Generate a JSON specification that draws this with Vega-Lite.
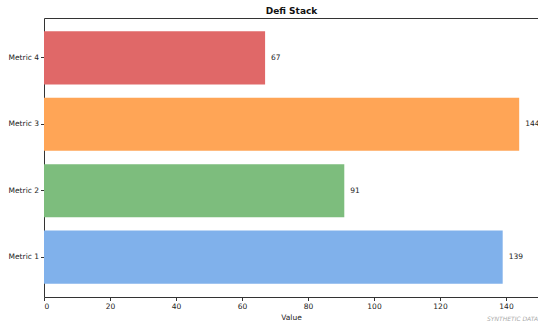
{
  "$schema": "https://vega.github.io/schema/vega-lite/v6.json",
  "width": 494,
  "height": 279,
  "autosize": {"type": "none"},
  "padding": {"left": 44, "top": 18, "right": 0, "bottom": 26},
  "background": "white",
  "config": {
    "view": {"stroke": null},
    "font": "DejaVu Sans"
  },
  "title": {
    "text": "SYNTHETIC DATA",
    "orient": "bottom",
    "anchor": "end",
    "frame": "group",
    "fontSize": 6,
    "fontStyle": "italic",
    "fontWeight": "normal",
    "color": "#aaaaaa",
    "offset": -5
  },
  "data": {
    "values": [
      {"metric": "Metric 1", "value": 139},
      {"metric": "Metric 2", "value": 91},
      {"metric": "Metric 3", "value": 144},
      {"metric": "Metric 4", "value": 67}
    ]
  },
  "encoding": {
    "y": {
      "field": "metric",
      "type": "nominal",
      "sort": "descending",
      "scale": {"paddingInner": 0.2, "paddingOuter": 0.2},
      "axis": {
        "title": null,
        "tickSize": 3.5,
        "tickColor": "#333333",
        "domainColor": "#333333",
        "labelFontSize": 7.5,
        "labelColor": "#222222",
        "labelPadding": 2
      }
    }
  },
  "layer": [
    {
      "mark": {"type": "bar"},
      "encoding": {
        "x": {
          "field": "value",
          "type": "quantitative",
          "scale": {"domain": [0, 149.7], "nice": false, "zero": true},
          "axis": {
            "orient": "bottom",
            "title": "Value",
            "values": [0, 20, 40, 60, 80, 100, 120, 140],
            "grid": false,
            "tickSize": 3.5,
            "tickColor": "#333333",
            "domainColor": "#333333",
            "labelFontSize": 7.5,
            "labelColor": "#222222",
            "labelPadding": 2,
            "titleFontSize": 7.5,
            "titleFontWeight": "normal",
            "titleColor": "#222222",
            "titlePadding": 3
          }
        },
        "color": {
          "field": "metric",
          "type": "nominal",
          "scale": {
            "domain": ["Metric 1", "Metric 2", "Metric 3", "Metric 4"],
            "range": ["#80b1eb", "#7dbd7d", "#ffa556", "#e06868"]
          },
          "legend": null
        }
      }
    },
    {
      "mark": {"type": "text", "align": "left", "baseline": "middle", "dx": 6, "fontSize": 7.5, "color": "#222222"},
      "encoding": {
        "x": {
          "field": "value",
          "type": "quantitative",
          "axis": {
            "orient": "top",
            "labels": false,
            "ticks": false,
            "grid": false,
            "domainColor": "#333333",
            "title": "Defi Stack",
            "titleFontSize": 9,
            "titleFontWeight": "bold",
            "titleColor": "#111111",
            "titlePadding": 3
          }
        },
        "text": {"field": "value", "type": "quantitative"}
      }
    }
  ],
  "resolve": {"axis": {"x": "independent"}}
}
